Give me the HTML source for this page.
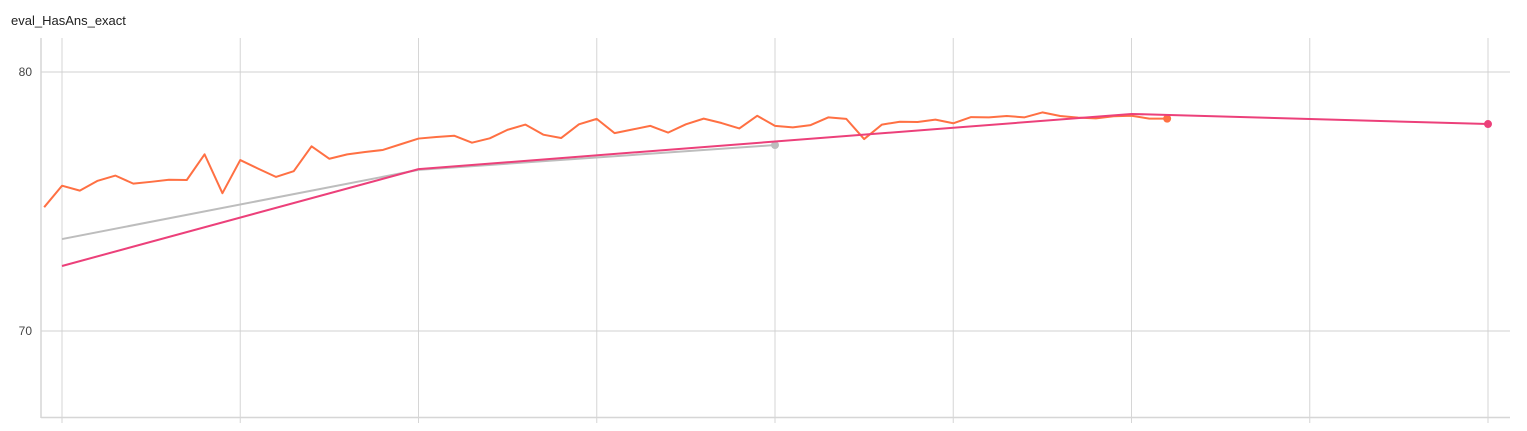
<!DOCTYPE html>
<html><head><meta charset="utf-8"><style>
body{margin:0;background:#fff;font-family:"Liberation Sans",sans-serif;}
svg{display:block}
</style></head><body>
<svg width="1527" height="431">
<text x="11" y="25" font-size="13" fill="#212121">eval_HasAns_exact</text>
<g id="grid"></g>
<g id="series"></g>
</svg>
<script>
const xTicks=[0,1,2,3,4,5,6,7,8];
const yTicks=[70,80];
const orangeX=[-0.1,0,0.1,0.2,0.3,0.4,0.5,0.6,0.7,0.8,0.9,1.0,1.1,1.2,1.3,1.4,1.5,1.6,1.7,1.8,1.9,2.0,2.1,2.2,2.3,2.4,2.5,2.6,2.7,2.8,2.9,3.0,3.1,3.2,3.3,3.4,3.5,3.6,3.7,3.8,3.9,4.0,4.1,4.2,4.3,4.4,4.5,4.6,4.7,4.8,4.9,5.0,5.1,5.2,5.3,5.4,5.5,5.6,5.7,5.8,5.9,6.0,6.1,6.2];
const orangeY=[74.78,75.61,75.42,75.80,76.00,75.69,75.76,75.84,75.83,76.82,75.32,76.60,76.27,75.95,76.17,77.13,76.65,76.82,76.91,76.99,77.21,77.43,77.49,77.54,77.27,77.44,77.77,77.97,77.58,77.45,77.98,78.19,77.64,77.78,77.92,77.66,77.98,78.20,78.03,77.82,78.31,77.92,77.86,77.95,78.25,78.19,77.41,77.97,78.08,78.07,78.16,78.02,78.26,78.25,78.30,78.25,78.44,78.30,78.24,78.21,78.29,78.31,78.20,78.20];
const pinkX=[0,2,6,8];
const pinkY=[72.51,76.25,78.38,77.99];
const grayX=[0,2,4];
const grayY=[73.55,76.22,77.18];
const NS="http://www.w3.org/2000/svg";
function sx(v){return 62+v*178.25;}
function sy(v){return 331-(v-70)*25.9;}
function mk(tag,attrs,parent){const e=document.createElementNS(NS,tag);for(const k in attrs)e.setAttribute(k,attrs[k]);parent.appendChild(e);return e;}
const grid=document.getElementById('grid'),ser=document.getElementById('series');
xTicks.forEach(t=>{const l=mk('line',{x1:sx(t),x2:sx(t),y1:38,y2:423,stroke:'#d6d6d6','stroke-width':1},grid);

});
yTicks.forEach(t=>{const l=mk('line',{x1:41,x2:1510,y1:sy(t),y2:sy(t),stroke:'#d0d0d0','stroke-width':1},grid);


const tx=mk('text',{x:32,y:sy(t)+4,'font-size':12,fill:'#444','text-anchor':'end'},grid);tx.textContent=t;

});
const ax=mk('line',{x1:41,x2:41,y1:38,y2:418,stroke:'#d6d6d6','stroke-width':1.5},grid);


const bx=mk('line',{x1:41,x2:1510,y1:417.5,y2:417.5,stroke:'#d6d6d6','stroke-width':1.5},grid);


function line(xs,ys,color,name){const p=mk('polyline',{points:xs.map((x,i)=>sx(x)+','+sy(ys[i])).join(' '),fill:'none',stroke:color,'stroke-width':2,'stroke-linejoin':'round'},ser);


const c=mk('circle',{cx:sx(xs[xs.length-1]),cy:sy(ys[ys.length-1]),r:4,fill:color},ser);

}
line(grayX,grayY,'#bdbdbd','gray-series');
line(orangeX,orangeY,'#ff7043','orange-series');
line(pinkX,pinkY,'#ec407a','pink-series');
</script>
</body></html>
